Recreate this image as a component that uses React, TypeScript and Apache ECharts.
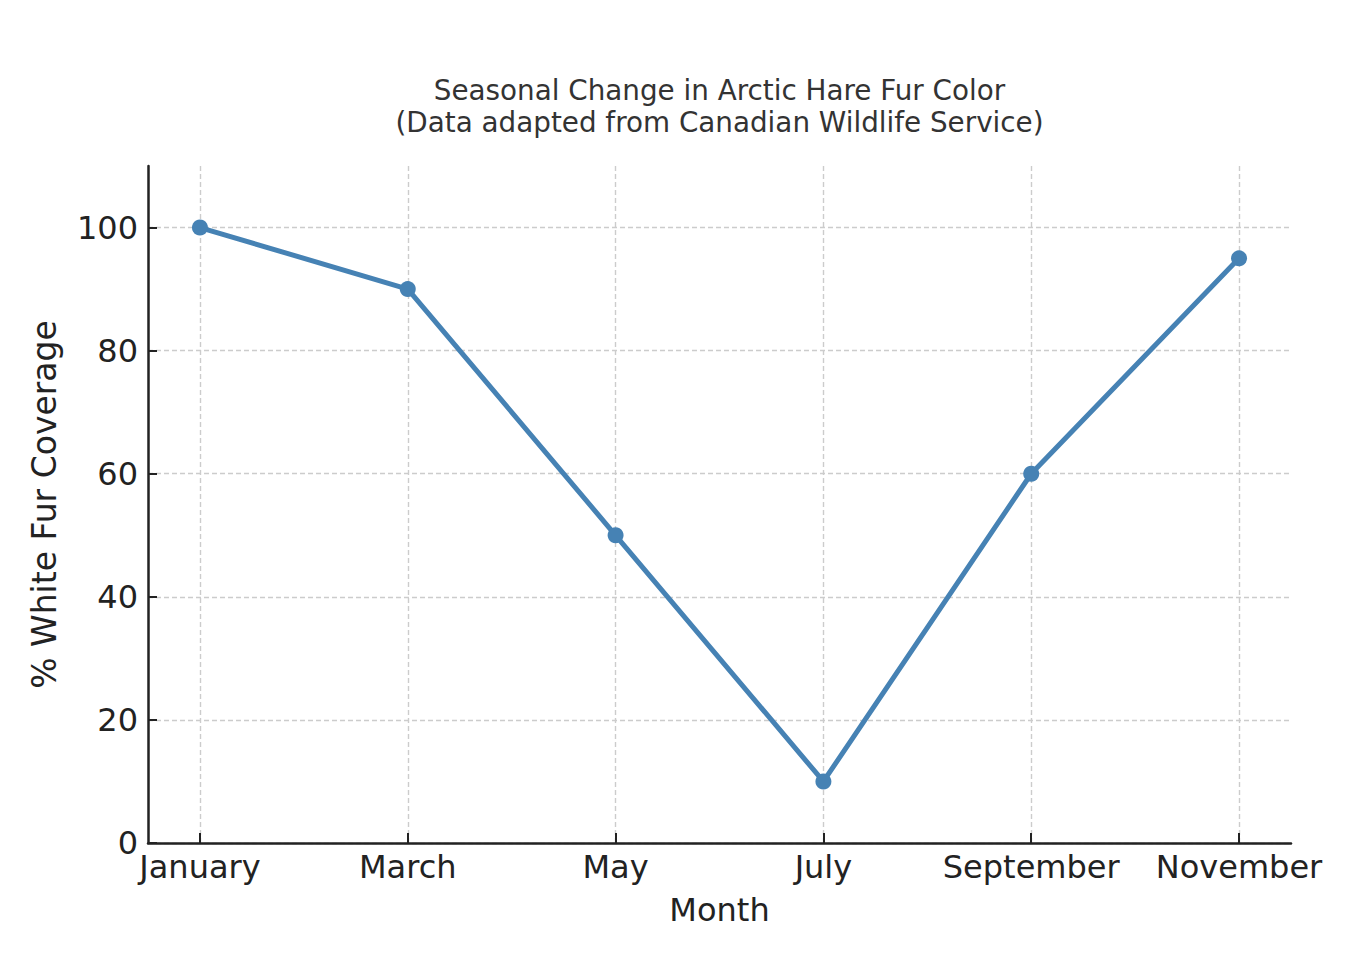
import React, { useEffect, useRef } from "react";
import * as echarts from "echarts";

const months = ["January", "March", "May", "July", "September", "November"];
const whiteFur = [100, 90, 50, 10, 60, 95];
const yTicks = [0, 20, 40, 60, 80, 100];
const xTicks = [0, 1, 2, 3, 4, 5];

const FONT = "DejaVu Sans";

export default function App() {
  const ref = useRef<HTMLDivElement>(null);
  useEffect(() => {
    if (!ref.current) return;
    const chart = echarts.init(ref.current, null, { renderer: "svg" });
    const dashed = { color: "#cccccc", width: 1.4, type: [5, 3] as any };
    chart.setOption({
      animation: false,
      backgroundColor: "#ffffff",
      textStyle: { fontFamily: FONT },
      title: {
        text: "Seasonal Change in Arctic Hare Fur Color\n(Data adapted from Canadian Wildlife Service)",
        left: 714.5,
        top: 69,
        textAlign: "center",
        textStyle: {
          fontFamily: FONT,
          fontSize: 27.8,
          fontWeight: "normal",
          color: "#333333",
          lineHeight: 32,
        },
      },
      grid: { left: 148, right: 69, top: 166, bottom: 117, containLabel: false },
      xAxis: {
        type: "value",
        min: -0.25,
        max: 5.25,
        name: "Month",
        nameLocation: "middle",
        nameGap: 51,
        nameTextStyle: { fontFamily: FONT, fontSize: 32, color: "#222222", verticalAlign: "top" },
        axisLine: { show: true, onZero: false, lineStyle: { color: "#222222", width: 2.5 } },
        axisTick: { show: true, inside: true, length: 10, customValues: xTicks, lineStyle: { color: "#222222", width: 2 } },
        axisLabel: {
          show: true,
          customValues: xTicks,
          margin: 8,
          fontFamily: FONT,
          fontSize: 32,
          color: "#222222",
          formatter: (v: number) => months[Math.round(v)] ?? "",
        },
        splitLine: { show: true, lineStyle: dashed },
      },
      yAxis: {
        type: "value",
        min: 0,
        max: 110,
        name: "% White Fur Coverage",
        nameLocation: "middle",
        nameGap: 87,
        nameTextStyle: { fontFamily: FONT, fontSize: 33, color: "#222222" },
        axisLine: { show: true, onZero: false, lineStyle: { color: "#222222", width: 2.5 } },
        axisTick: { show: true, inside: true, length: 9, customValues: yTicks, lineStyle: { color: "#222222", width: 2 } },
        axisLabel: {
          show: true,
          customValues: yTicks,
          margin: 10,
          fontFamily: FONT,
          fontSize: 32,
          color: "#222222",
        },
        splitLine: { show: true, lineStyle: dashed },
      },
      series: [
        {
          type: "line",
          data: whiteFur.map((v, i) => [i, v]),
          symbol: "circle",
          symbolSize: 16,
          itemStyle: { color: "#4682B4" },
          lineStyle: { color: "#4682B4", width: 5 },
          z: 5,
        },
      ],
    });
    return () => chart.dispose();
  }, []);
  return (
    <div
      ref={ref}
      style={{ position: "fixed", left: 0, top: 0, width: 1360, height: 960 }}
    />
  );
}
